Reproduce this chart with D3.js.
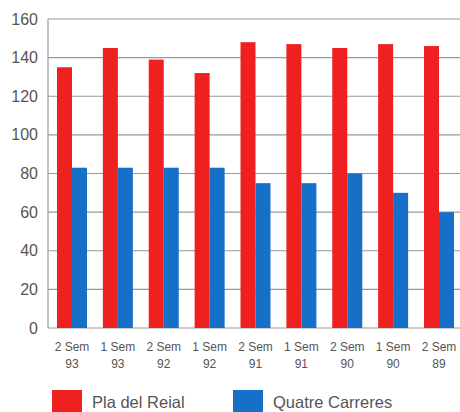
<!DOCTYPE html>
<html>
<head>
<meta charset="utf-8">
<script src="https://cdnjs.cloudflare.com/ajax/libs/d3/7.8.5/d3.min.js"></script>
<style>
  body { margin: 0; background: #fff; }
  text { font-family: "Liberation Sans", Arial, sans-serif; fill: #555; }
</style>
</head>
<body>
<script>
var periods = ["2 Sem|93", "1 Sem|93", "2 Sem|92", "1 Sem|92", "2 Sem|91", "1 Sem|91", "2 Sem|90", "1 Sem|90", "2 Sem|89"];
var plaDelReial = [135, 145, 139, 132, 148, 147, 145, 147, 146];
var quatreCarreres = [83, 83, 83, 83, 75, 75, 80, 70, 60];
var seriesNames = ["Pla del Reial", "Quatre Carreres"];
var seriesColors = ["#ee2020", "#1670c8"];
var yTicks = [0, 20, 40, 60, 80, 100, 120, 140, 160];

var svgWidth = 460, svgHeight = 412;
var margin = {top: 19, right: 0, bottom: 84, left: 48};
var width = svgWidth - margin.left - margin.right;
var height = svgHeight - margin.top - margin.bottom;

var svg = d3.select("body").append("svg")
            .attr("width", svgWidth)
            .attr("height", svgHeight);

var chartGroup = svg.append("g")
                    .attr("transform", `translate(${margin.left}, ${margin.top})`);

// the last group runs slightly past the right edge of the picture
var x0 = d3.scaleBand().domain(periods).range([0, width + 3]).paddingInner(0.346).paddingOuter(0.196);
var x1 = d3.scaleBand().domain(seriesNames).range([0, x0.bandwidth()]);
var y = d3.scaleLinear().domain([0, 160]).range([height, 0]);

// gridlines
chartGroup.selectAll("line.grid")
          .data(yTicks)
          .enter()
          .append("line")
          .attr("x1", 0)
          .attr("x2", width)
          .attr("y1", d => y(d))
          .attr("y2", d => y(d))
          .attr("stroke", "#999")
          .attr("stroke-width", 1.2);

// y labels
chartGroup.selectAll("text.ylab")
          .data(yTicks)
          .enter()
          .append("text")
          .attr("x", -10)
          .attr("y", d => y(d))
          .attr("dy", "0.35em")
          .attr("text-anchor", "end")
          .style("font-size", "16px")
          .text(d => d);

// bars
var data = periods.map((p, i) => ({period: p, values: [plaDelReial[i], quatreCarreres[i]]}));
var groups = chartGroup.selectAll("g.grp")
                       .data(data)
                       .enter()
                       .append("g")
                       .attr("transform", d => `translate(${x0(d.period)},0)`);

groups.selectAll("rect")
      .data(d => d.values.map((v, j) => ({name: seriesNames[j], value: v, color: seriesColors[j]})))
      .enter()
      .append("rect")
      .attr("x", d => x1(d.name))
      .attr("y", d => y(d.value))
      .attr("width", x1.bandwidth())
      .attr("height", d => height - y(d.value))
      .attr("fill", d => d.color);

// axis line
chartGroup.append("line")
          .attr("x1", 0).attr("x2", 0)
          .attr("y1", 0).attr("y2", height)
          .attr("stroke", "#999").attr("stroke-width", 1.2);

// x labels
var xlab = chartGroup.selectAll("text.xlab")
                     .data(periods)
                     .enter()
                     .append("text")
                     .attr("text-anchor", "middle")
                     .attr("x", d => x0(d) + x0.bandwidth() / 2)
                     .attr("y", height + 23)
                     .style("font-size", "12px");
xlab.append("tspan")
    .attr("x", d => x0(d) + x0.bandwidth() / 2)
    .text(d => d.split("|")[0]);
xlab.append("tspan")
    .attr("x", d => x0(d) + x0.bandwidth() / 2)
    .attr("dy", "1.45em")
    .text(d => d.split("|")[1]);

// legend
var legendX = [52, 233];
var legend = svg.selectAll("g.legend")
                .data(seriesNames)
                .enter()
                .append("g")
                .attr("transform", (d, i) => `translate(${legendX[i]}, 390)`);
legend.append("rect")
      .attr("width", 30)
      .attr("height", 24)
      .attr("fill", (d, i) => seriesColors[i]);
legend.append("text")
      .attr("x", 40)
      .attr("y", 12)
      .attr("dy", "0.35em")
      .style("font-size", "16.5px")
      .text(d => d);
</script>
</body>
</html>
